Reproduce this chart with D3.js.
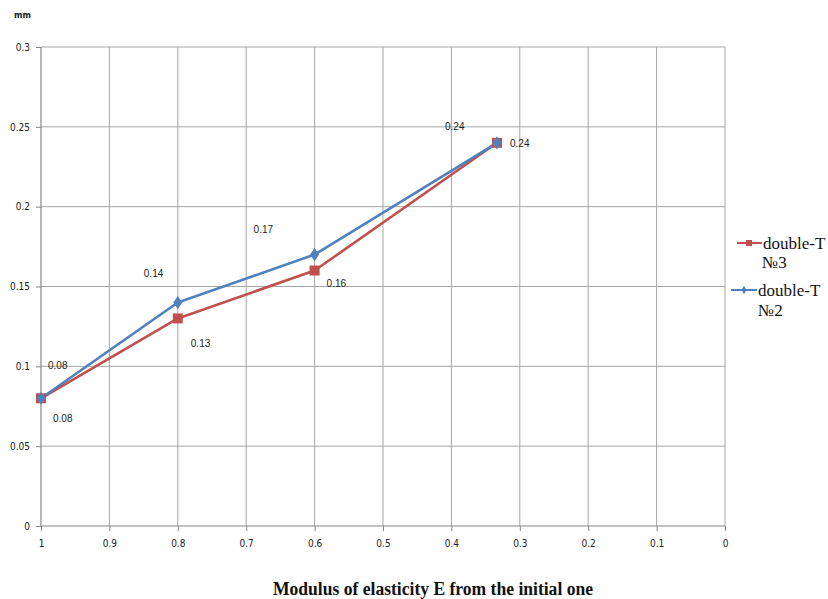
<!DOCTYPE html>
<html>
<head>
<meta charset="utf-8">
<script src="https://cdn.jsdelivr.net/npm/d3@7"></script>
<style>
  html, body { margin: 0; padding: 0; background: #fff; }
  svg { display: block; }
</style>
</head>
<body>
<svg id="chart" width="828" height="599"></svg>
<script>
// Relative modulus of elasticity (x) and deflection in mm (y)
const eValues = [1, 0.8, 0.6, 1 / 3];
const seriesNames = ["double-T", "double-T"];
const seriesSuffix = ["№3", "№2"];
const deflectionT3 = [0.08, 0.13, 0.16, 0.24];
const deflectionT2 = [0.08, 0.14, 0.17, 0.24];
const xTicks = [1, 0.9, 0.8, 0.7, 0.6, 0.5, 0.4, 0.3, 0.2, 0.1, 0];
const yTicks = [0, 0.05, 0.1, 0.15, 0.2, 0.25, 0.3];

(function draw() {
  const svg = d3.select("#chart");
  const pLeft = 41, pRight = 725, pTop = 47, pBottom = 526;

  const x = d3.scaleLinear().domain([1, 0]).range([pLeft, pRight]);
  const y = d3.scaleLinear().domain([0, 0.3]).range([pBottom, pTop]);

  const tickFont = "'Liberation Sans Narrow', 'DejaVu Sans Condensed', Arial, sans-serif";

  // Grid
  const grid = svg.append("g");
  grid.selectAll("line.v").data(xTicks.slice(1)).enter().append("line")
    .attr("x1", d => x(d)).attr("x2", d => x(d))
    .attr("y1", pTop).attr("y2", pBottom)
    .attr("stroke", "#a6a6a6").attr("stroke-width", 1);
  grid.selectAll("line.h").data(yTicks.slice(1)).enter().append("line")
    .attr("x1", pLeft).attr("x2", pRight)
    .attr("y1", d => y(d)).attr("y2", d => y(d))
    .attr("stroke", "#a6a6a6").attr("stroke-width", 1);

  // Axes
  const xAxis = svg.append("g").attr("transform", `translate(0,${pBottom})`)
    .call(d3.axisBottom(x).tickValues(xTicks).tickSize(5).tickPadding(9)
      .tickFormat(d => d3.format("~g")(d)));
  const yAxis = svg.append("g").attr("transform", `translate(${pLeft},0)`)
    .call(d3.axisLeft(y).tickValues(yTicks).tickSize(5).tickPadding(6)
      .tickFormat(d => d3.format("~g")(d)));
  [xAxis, yAxis].forEach(a => {
    a.select(".domain").attr("stroke", "#868686").attr("stroke-width", 1.2);
    a.selectAll(".tick line").attr("stroke", "#868686");
    a.selectAll(".tick text").attr("fill", "#222").style("font-family", tickFont).style("font-size", "10px");
  });
  yAxis.select(".domain").attr("d", `M0,${pBottom}V${pTop}`);
  xAxis.select(".domain").attr("d", `M${pLeft},0H${pRight}`);

  // Unit label
  svg.append("text").attr("x", 14).attr("y", 18)
    .style("font-family", tickFont).style("font-size", "9px").style("font-weight", "bold")
    .attr("fill", "#222").text("mm");

  // Lines
  const line = d3.line().x(d => x(d[0])).y(d => y(d[1]));
  const red = "#c0504d", blue = "#4f81bd";
  const t3 = eValues.map((e, i) => [e, deflectionT3[i]]);
  const t2 = eValues.map((e, i) => [e, deflectionT2[i]]);

  svg.append("path").datum(t3).attr("d", line).attr("fill", "none")
    .attr("stroke", red).attr("stroke-width", 2.6).attr("stroke-linejoin", "round");
  svg.append("path").datum(t2).attr("d", line).attr("fill", "none")
    .attr("stroke", blue).attr("stroke-width", 2.6).attr("stroke-linejoin", "round");

  svg.selectAll("rect.m3").data(t3).enter().append("rect")
    .attr("x", d => x(d[0]) - 5).attr("y", d => y(d[1]) - 5)
    .attr("width", 10).attr("height", 10).attr("fill", red);
  const diamond = d3.symbol().type(d3.symbolDiamond).size(50);
  svg.selectAll("path.m2").data(t2).enter().append("path")
    .attr("d", diamond)
    .attr("transform", d => `translate(${x(d[0])},${y(d[1])}) scale(1.2,1)`)
    .attr("fill", blue);

  // Value labels: №2 sits above-left of its points, №3 below-right
  const labelFont = "'Liberation Sans', Arial, sans-serif";
  const fmt = d3.format(".2f");
  const off2 = [[7, -29], [-34, -25], [-61, -22], [-52, -13]];
  const off3 = [[12, 24], [13, 29], [12, 16], [13, 4]];
  svg.selectAll("text.l2").data(t2).enter().append("text")
    .attr("x", (d, i) => x(d[0]) + off2[i][0])
    .attr("y", (d, i) => y(d[1]) + off2[i][1])
    .style("font-family", labelFont).style("font-size", "10px").attr("fill", "#222")
    .text(d => fmt(d[1]));
  svg.selectAll("text.l3").data(t3).enter().append("text")
    .attr("x", (d, i) => x(d[0]) + off3[i][0])
    .attr("y", (d, i) => y(d[1]) + off3[i][1])
    .style("font-family", labelFont).style("font-size", "10px").attr("fill", "#222")
    .text(d => fmt(d[1]));

  // Legend
  const legendFont = "'Liberation Serif', 'Times New Roman', serif";
  const leg = svg.append("g");
  leg.append("line").attr("x1", 737).attr("x2", 762).attr("y1", 243).attr("y2", 243)
    .attr("stroke", red).attr("stroke-width", 2);
  leg.append("rect").attr("x", 746).attr("y", 240).attr("width", 6).attr("height", 6).attr("fill", red);
  leg.append("text").attr("x", 763).attr("y", 249).text(seriesNames[0]);
  leg.append("text").attr("x", 762).attr("y", 268).text(seriesSuffix[0]);
  leg.append("line").attr("x1", 731).attr("x2", 757).attr("y1", 290).attr("y2", 290)
    .attr("stroke", blue).attr("stroke-width", 2);
  leg.append("path").attr("d", d3.symbol().type(d3.symbolDiamond).size(22))
    .attr("transform", "translate(744,290)").attr("fill", blue);
  leg.append("text").attr("x", 758).attr("y", 296).text(seriesNames[1]);
  leg.append("text").attr("x", 758).attr("y", 316).text(seriesSuffix[1]);
  leg.selectAll("text").style("font-family", legendFont).style("font-size", "17px").attr("fill", "#111");

  // X axis title
  svg.append("text").attr("x", 273).attr("y", 595)
    .attr("textLength", 320).attr("lengthAdjust", "spacingAndGlyphs")
    .style("font-family", legendFont).style("font-size", "18px").style("font-weight", "bold")
    .attr("fill", "#111").text("Modulus of elasticity E from the initial one");
})();
</script>
</body>
</html>
